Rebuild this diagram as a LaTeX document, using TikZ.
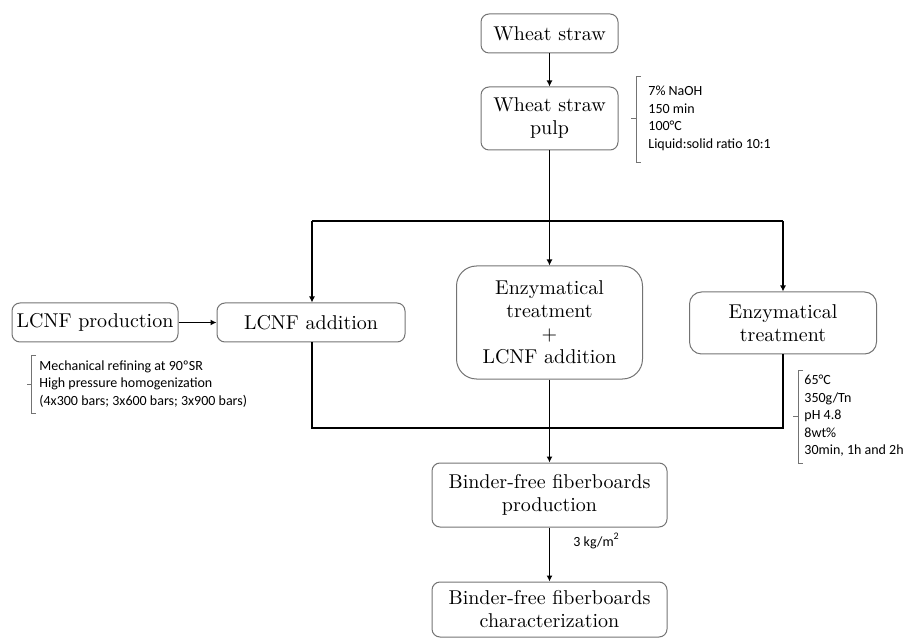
\documentclass[tikz,border=0pt]{standalone}
\usepackage{fontspec}
\newfontfamily\notefont{Carlito}
\usetikzlibrary{arrows.meta}
\begin{document}
\begin{tikzpicture}[x=0.5pt,y=-0.5pt,
  box/.style={draw=black!55, line width=0.5pt, rounded corners=4pt, align=center,
    font=\fontsize{10}{11.5}\selectfont, inner sep=0pt},
  conn/.style={line width=0.9pt, black},
  arr/.style={conn, -{Latex[length=3pt,width=3pt]}},
  note/.style={font=\notefont\fontsize{7}{8.75}\selectfont, align=left, anchor=west, inner sep=0pt},
  brk/.style={draw=black!55, line width=0.4pt}]
\useasboundingbox (0,0) rectangle (908,640);
% boxes
\node[box, minimum width=68.5pt, minimum height=19.5pt] (ws) at (549.5,33.5) {Wheat straw};
\node[box, minimum width=68.5pt, minimum height=31.5pt] (pulp) at (549.5,118.5) {Wheat straw\\pulp};
\node[box, minimum width=83pt, minimum height=19.5pt] (lprod) at (95,322.5) {LCNF production};
\node[box, minimum width=94pt, minimum height=19.5pt] (ladd) at (311,322.5) {LCNF addition};
\node[box, rounded corners=10pt, minimum width=93pt, minimum height=56.5pt] (enzl) at (549.5,322.5) {Enzymatical\\treatment\\+\\LCNF addition};
\node[box, rounded corners=6pt, minimum width=93.5pt, minimum height=31pt] (enz) at (783,323) {Enzymatical\\treatment};
\node[box, minimum width=117.5pt, minimum height=32pt] (prod) at (549.5,495) {Binder-free fiberboards\\production};
\node[box, minimum width=117.5pt, minimum height=27.5pt] (char) at (549.5,609.5) {Binder-free fiberboards\\characterization};
% junctions
\coordinate (j1) at (549.5,221);
\coordinate (jl) at (312,221);
\coordinate (jr) at (783,221);
\coordinate (k1) at (549.5,428);
\coordinate (kl) at (312,428);
\coordinate (kr) at (783,428);
% connectors
\draw[arr] (ws) -- (pulp);
\draw[conn] (pulp.south) -- (j1);
\draw[conn] (jl) -- (jr);
\draw[arr] (j1) -- (enzl.north);
\draw[arr] (jl) -- (jl |- ladd.north);
\draw[arr] (jr) -- (enz.north);
\draw[arr] (lprod) -- (ladd);
\draw[conn] (kl |- ladd.south) -- (kl) -- (kr) -- (enz.south);
\draw[conn] (enzl.south) -- (k1);
\draw[arr] (k1) -- (prod.north);
\draw[arr] (prod) -- (char);
% notes
\node[note] (n1) at (648,118.5) {7\% NaOH\\150 min\\100°C\\Liquid:solid ratio 10:1};
\draw[brk] (641,76) -- (636,76) -- (636,162) -- (641,162);
\draw[brk] (636,118.5) -- (631,118.5);
\node[note] (n2) at (39,384) {Mechanical refining at 90ºSR\\High pressure homogenization\\(4x300 bars; 3x600 bars; 3x900 bars)};
\draw[brk] (36,355) -- (31,355) -- (31,413) -- (36,413);
\draw[brk] (31,384) -- (27,384);
\node[note] (n3) at (804,416) {65°C\\350g/Tn\\pH 4.8\\8wt\%\\30min, 1h and 2h};
\draw[brk] (803,370) -- (798,370) -- (798,463) -- (803,463);
\draw[brk] (798,416.5) -- (793,416.5);
\node[note, anchor=base west] (n4) at (573,546) {3 kg/m\textsuperscript{2}};
\end{tikzpicture}
\end{document}
